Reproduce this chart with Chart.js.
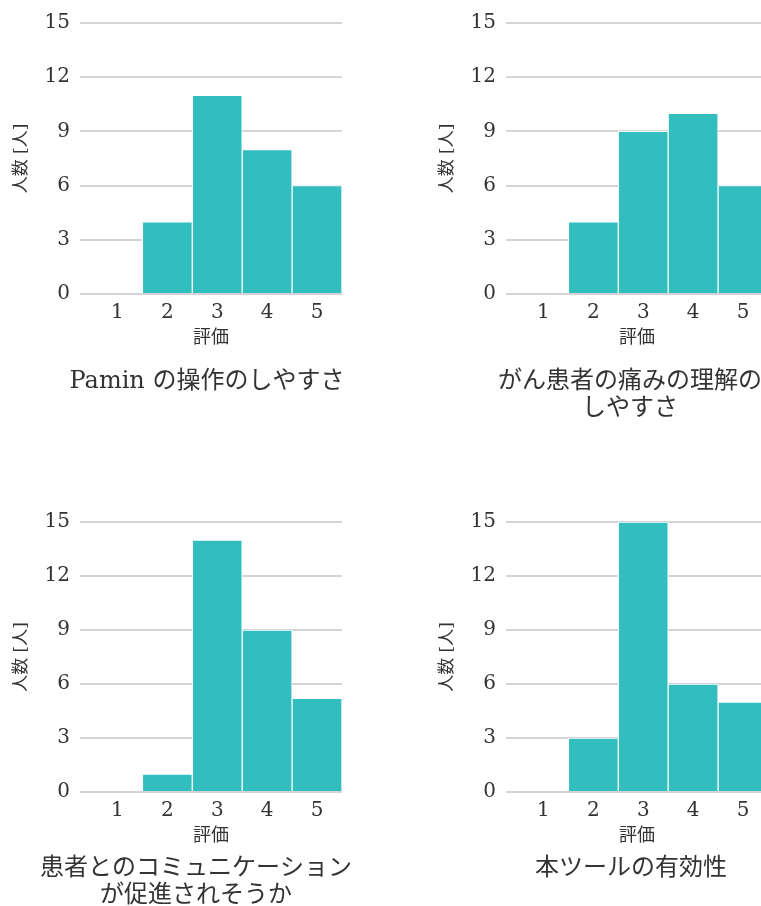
<!DOCTYPE html>
<html lang="ja">
<head>
<meta charset="utf-8">
<script src="https://cdn.jsdelivr.net/npm/chart.js@4/dist/chart.umd.min.js"></script>
<style>
  html, body { margin: 0; padding: 0; background: #ffffff; }
  body { width: 761px; height: 906px; overflow: hidden; position: relative; }
  canvas { position: absolute; }
</style>
</head>
<body>
<canvas id="c1"></canvas>
<canvas id="c2"></canvas>
<canvas id="c3"></canvas>
<canvas id="c4"></canvas>
<script>
// Rating scale (評価) and y-axis ticks
const ratings = [1, 2, 3, 4, 5];
const yTicks = [0, 3, 6, 9, 12, 15];

// Number of respondents per rating, one array per question
const easeOfUse = [0, 4, 11, 8, 6];            // Pamin の操作のしやすさ
const painUnderstanding = [0, 4, 9, 10, 6];     // がん患者の痛みの理解のしやすさ
const communication = [0, 1, 14, 9, 5.2];       // 患者とのコミュニケーションが促進されそうか
const effectiveness = [0, 3, 15, 6, 5];         // 本ツールの有効性

// Panel titles
const titleEase = ['Pamin の操作のしやすさ'];
const titlePain = ['がん患者の痛みの理解の', 'しやすさ'];
const titleComm = ['患者とのコミュニケーション', 'が促進されそうか'];
const titleEff = ['本ツールの有効性'];

const FONT = "'DejaVu Serif', 'Noto Sans CJK JP', serif";
const BAR = '#32bebe';
const GRID = '#d4d4d4';
const TEXT = '#333333';

const panels = [
  { id: 'c1', left: 0,   top: 0,   width: 414, padTop: 23, titlePad: 18, values: easeOfUse,         title: titleEase },
  { id: 'c2', left: 426, top: 0,   width: 408, padTop: 23, titlePad: 18, values: painUnderstanding, title: titlePain },
  { id: 'c3', left: 0,   top: 498, width: 392, padTop: 24, titlePad: 7,  values: communication,     title: titleComm },
  { id: 'c4', left: 426, top: 498, width: 410, padTop: 24, titlePad: 7,  values: effectiveness,     title: titleEff }
];

const PLOT_BOTTOM = 294;  // zero line inside each canvas
const PLOT_RIGHT = 342;   // right edge of the plot area inside each canvas
const Y_AXIS_W = 80;      // left edge of the plot area
const X_AXIS_H = 56;      // space for rating ticks and the 評価 label
const TITLE_LH = 27;

panels.forEach(p => {
  const canvas = document.getElementById(p.id);
  const height = PLOT_BOTTOM + X_AXIS_H + p.titlePad + TITLE_LH * p.title.length;
  canvas.width = p.width;
  canvas.height = height;
  canvas.style.left = p.left + 'px';
  canvas.style.top = p.top + 'px';

  new Chart(canvas, {
    type: 'bar',
    data: {
      datasets: [{
        data: ratings.map((r, i) => ({ x: r, y: p.values[i] })),
        backgroundColor: BAR,
        borderColor: '#ffffff',
        borderWidth: 1,
        borderSkipped: 'bottom',
        barPercentage: 1,
        categoryPercentage: 1
      }]
    },
    options: {
      responsive: false,
      animation: false,
      devicePixelRatio: 1,
      layout: { padding: { top: p.padTop, left: 0, right: 0, bottom: 0 } },
      plugins: {
        legend: { display: false },
        tooltip: { enabled: false },
        title: {
          display: true,
          position: 'bottom',
          fullSize: true,
          text: p.title,
          color: TEXT,
          font: { family: FONT, size: 24, weight: 'normal', lineHeight: TITLE_LH / 24 },
          padding: { top: p.titlePad, bottom: 0 }
        }
      },
      scales: {
        x: {
          type: 'linear',
          min: 0.25,
          max: 5.5,
          offset: false,
          grid: { display: false, drawTicks: false },
          border: { display: false },
          afterBuildTicks: s => { s.ticks = ratings.map(v => ({ value: v })); },
          afterFit: s => { s.height = X_AXIS_H; },
          ticks: {
            color: TEXT,
            padding: 7,
            font: { family: FONT, size: 20, lineHeight: 1.2 },
            callback: v => String(v)
          },
          title: {
            display: true,
            text: '評価',
            color: TEXT,
            font: { family: FONT, size: 18, lineHeight: 1.2 },
            padding: { top: 0, bottom: 1 }
          }
        },
        y: {
          min: 0,
          max: 15,
          afterBuildTicks: s => { s.ticks = yTicks.map(v => ({ value: v })); },
          afterFit: s => { s.width = Y_AXIS_W; },
          grid: { color: GRID, lineWidth: 2, drawTicks: false },
          border: { display: false },
          ticks: {
            color: TEXT,
            padding: 10,
            font: { family: FONT, size: 20, lineHeight: 1.2 }
          },
          title: {
            display: true,
            text: '人数 [人]',
            color: TEXT,
            font: { family: FONT, size: 17, lineHeight: 1.2 },
            padding: { top: 11, bottom: 0 }
          }
        },
        // empty right-hand axis that reserves the space to the right of the plot
        spacer: {
          type: 'linear',
          position: 'right',
          display: true,
          grid: { display: false, drawTicks: false },
          border: { display: false },
          ticks: { display: false },
          afterFit: s => { s.width = p.width - PLOT_RIGHT; }
        }
      }
    }
  });
});
</script>
</body>
</html>
